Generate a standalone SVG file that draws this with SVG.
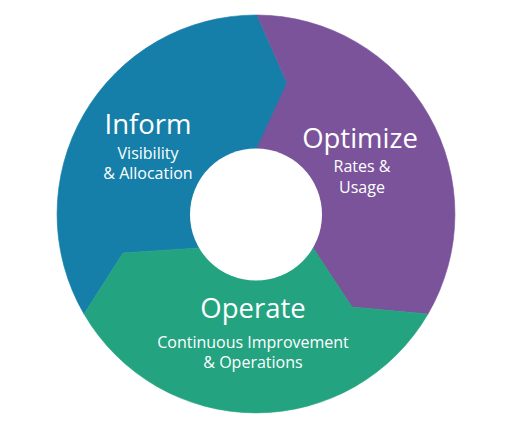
<svg xmlns="http://www.w3.org/2000/svg" width="515" height="438" viewBox="0 0 515 438">
<style>
text{fill:#fff;font-family:"Open Sans","Noto Sans","Liberation Sans",sans-serif;text-anchor:middle}
.t{font-size:27.5px}
.s{font-size:16px}
</style>
<rect width="515" height="438" fill="#fff"/>
<g id="inform">
<path d="M257,15 L287,83 L256,214 L199,248 L123,253 L84,314 A199,199 0 0 1 257,15 Z" fill="#167fa9" stroke="#167fa9" stroke-width="0.6"/>
<text class="t" x="148" y="134">Inform</text>
<text class="s" x="148" y="159">Visibility</text>
<text class="s" x="148" y="179">&amp; Allocation</text>
</g>
<g id="optimize">
<path d="M257,15 A199,199 0 0 1 428,314 L352,307 L313,248 L256,214 L257,148 L287,83 Z" fill="#7a539b" stroke="#7a539b" stroke-width="0.6"/>
<text class="t" x="360" y="148">Optimize</text>
<text class="s" x="362" y="172">Rates &amp;</text>
<text class="s" x="362" y="193">Usage</text>
</g>
<g id="operate">
<path d="M428,314 A199,199 0 0 1 84,314 L123,253 L199,248 L256,214 L313,248 L352,307 Z" fill="#23a37f" stroke="#23a37f" stroke-width="0.6"/>
<text class="t" x="253" y="318">Operate</text>
<text class="s" x="253" y="348">Continuous Improvement</text>
<text class="s" x="253" y="368">&amp; Operations</text>
</g>
<g id="hole"><circle cx="256" cy="214.5" r="66" fill="#fff"/></g>
<g id="connectors"/>
</svg>
